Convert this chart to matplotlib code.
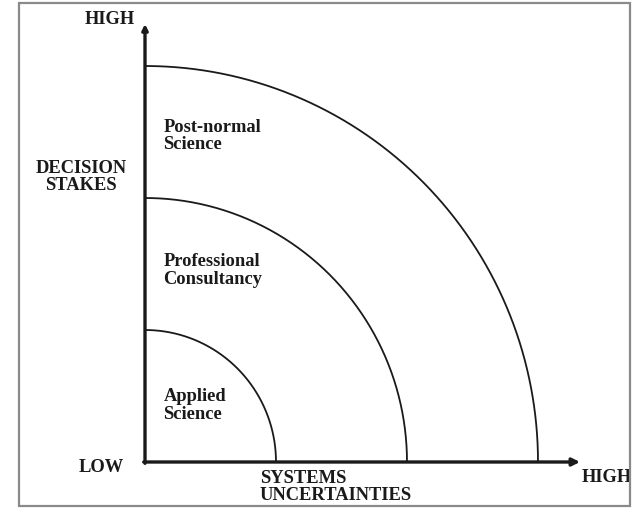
import matplotlib
matplotlib.use('Agg')
import matplotlib.pyplot as plt
from matplotlib.patches import Rectangle
import numpy as np

# data
radii = [1.0, 2.0, 3.0]
region_labels = ["Applied\nScience", "Professional\nConsultancy", "Post-normal\nScience"]
x_axis_label = "SYSTEMS\nUNCERTAINTIES"
y_axis_label = "DECISION\nSTAKES"
low_label = "LOW"
high_label = "HIGH"

plt.rcParams['font.family'] = ['Liberation Serif', 'DejaVu Serif']
ink = '#1a1a1a'
fs = 13.3
ls = 1.05

W, H = 637, 509
ox, oy = 145, 462      # origin in pixels
sx, sy = 131.0, 132.0  # pixels per unit

fig = plt.figure(figsize=(W / 100, H / 100), dpi=100)
ax = fig.add_axes([0, 0, 1, 1])
ax.set_xlim(-ox / sx, (W - ox) / sx)
ax.set_ylim(-(H - oy) / sy, oy / sy)
ax.axis('off')

# outer frame
fig.patches.append(Rectangle((19 / W, 3 / H), 611 / W, 503 / H, transform=fig.transFigure,
                             fill=False, edgecolor='#8a8a8a', lw=1.6))

# quarter circles
theta = np.linspace(0, np.pi / 2, 200)
for r in radii:
    ax.plot(r * np.cos(theta), r * np.sin(theta), color=ink, lw=1.3, solid_capstyle='butt')

# axes with arrows
x_end = (580 - ox) / sx
y_end = (oy - 24) / sy
ax.annotate('', xy=(x_end, 0), xytext=(-0.01, 0),
            arrowprops=dict(arrowstyle='-|>', lw=2.4, color=ink, mutation_scale=11, shrinkA=0, shrinkB=0))
ax.annotate('', xy=(0, y_end), xytext=(0, -0.01),
            arrowprops=dict(arrowstyle='-|>', lw=2.4, color=ink, mutation_scale=8, shrinkA=0, shrinkB=0))

# region labels
label_y = [0.43, 1.45, 2.47]
for lbl, ly in zip(region_labels, label_y):
    ax.text(0.14, ly, lbl, ha='left', va='center', fontsize=fs, fontweight='bold',
            color=ink, linespacing=ls)

# axis labels
ax.text((135 - ox) / sx, (oy - 20) / sy, high_label, ha='right', va='center',
        fontsize=fs, fontweight='bold', color=ink)
ax.text((81 - ox) / sx, (oy - 177) / sy, y_axis_label, ha='center', va='center',
        fontsize=fs, fontweight='bold', color=ink, linespacing=ls)
ax.text((101 - ox) / sx, (oy - 467) / sy, low_label, ha='center', va='center',
        fontsize=fs, fontweight='bold', color=ink)
ax.text((260 - ox) / sx, (oy - 487) / sy, x_axis_label, ha='left', va='center',
        fontsize=fs, fontweight='bold', color=ink, linespacing=ls)
ax.text((632 - ox) / sx, (oy - 478) / sy, high_label, ha='right', va='center',
        fontsize=fs, fontweight='bold', color=ink)

plt.savefig('out.png', dpi=100)
